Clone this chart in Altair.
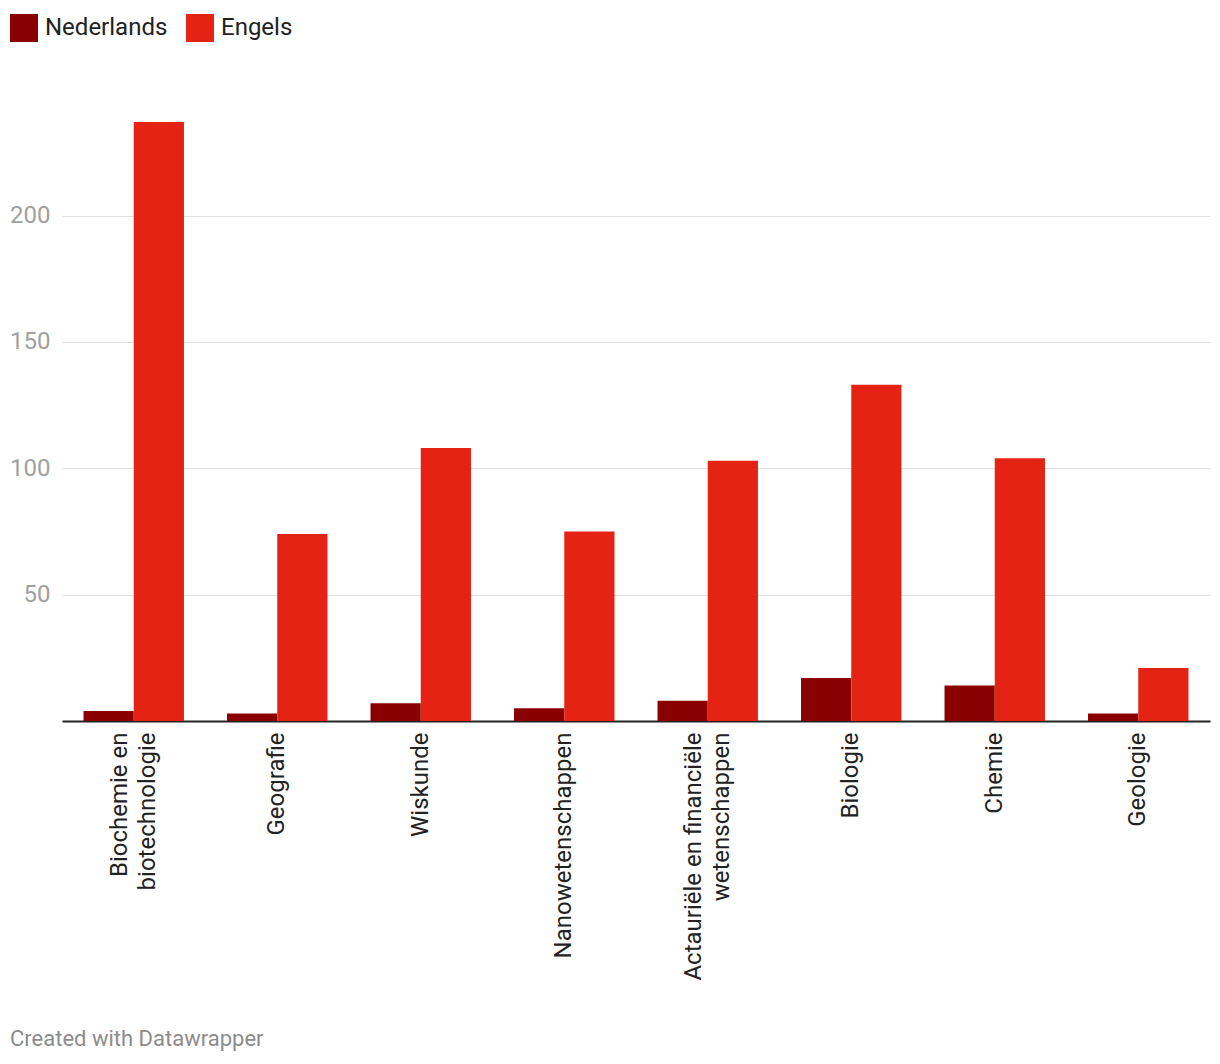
import altair as alt
import pandas as pd

categories = ["Biochemie en biotechnologie", "Geografie", "Wiskunde", "Nanowetenschappen",
              "Actauriële en financiële wetenschappen", "Biologie", "Chemie", "Geologie"]
label_lines = {
    "Biochemie en biotechnologie": ["Biochemie en", "biotechnologie"],
    "Actauriële en financiële wetenschappen": ["Actauriële en financiële", "wetenschappen"],
}
series = ["Nederlands", "Engels"]
nederlands = [4, 3, 7, 5, 8, 17, 14, 3]
engels = [237, 74, 108, 75, 103, 133, 104, 21]
colors = ["#8a0000", "#e52314"]
y_ticks = [50, 100, 150, 200]
footer = "Created with Datawrapper"

rows = []
for i, c in enumerate(categories):
    rows.append({"cat": c, "taal": series[0], "v": nederlands[i]})
    rows.append({"cat": c, "taal": series[1], "v": engels[i]})
df = pd.DataFrame(rows)

expr_parts = []
for k, lines in label_lines.items():
    arr = "[" + ", ".join("'" + l + "'" for l in lines) + "]"
    expr_parts.append(f"datum.label == '{k}' ? {arr} : ")
label_expr = "".join(expr_parts) + "datum.label"
multi_test = " || ".join(f"datum.label == '{k}'" for k in label_lines)

FONT = "Roboto"
LH = 28

bars = alt.Chart(df).mark_bar().encode(
    x=alt.X("cat:N", sort=categories, title=None,
            scale=alt.Scale(paddingInner=0.3, paddingOuter=0.15),
            axis=alt.Axis(labelAngle=270, labelFontSize=24, labelColor="#222222",
                          labelFont=FONT, labelPadding=11, ticks=False,
                          domainColor="#222222", domainWidth=2, labelLineHeight=LH,
                          labelOffset={"condition": {"test": multi_test, "value": -LH / 2},
                                       "value": 0},
                          labelExpr=label_expr, labelLimit=400)),
    xOffset=alt.XOffset("taal:N", sort=series),
    y=alt.Y("v:Q", title=None, scale=alt.Scale(domain=[0, 237], nice=False),
            axis=alt.Axis(values=y_ticks, labelFontSize=24, labelColor="#a0a0a0",
                          labelFont=FONT, labelPadding=12, ticks=False, domain=False,
                          gridColor="#e0e0e0", gridWidth=1.2)),
    color=alt.Color("taal:N", sort=series,
                    scale=alt.Scale(domain=series, range=colors),
                    legend=alt.Legend(title=None, orient="none", legendX=-52, legendY=-108,
                                      direction="horizontal", symbolType="square",
                                      symbolSize=784, symbolStrokeWidth=0,
                                      labelFontSize=24, labelFont=FONT, labelColor="#222222",
                                      labelOffset=7, columnPadding=18, padding=0)),
)

foot = alt.Chart(pd.DataFrame({"t": [footer]})).mark_text(
    align="left", baseline="middle", fontSize=22, font=FONT, color="#8c8c8c"
).encode(text="t:N", x=alt.value(-52), y=alt.value(917))

chart = alt.layer(bars, foot).properties(
    width=1148, height=599,
    autosize=alt.AutoSizeParams(type="none"),
    padding={"left": 54, "top": 114, "right": 2, "bottom": 340},
).configure(font=FONT).configure_view(stroke=None, strokeWidth=0)

chart.save("out.html", embed_options={"renderer": "svg", "actions": False})
